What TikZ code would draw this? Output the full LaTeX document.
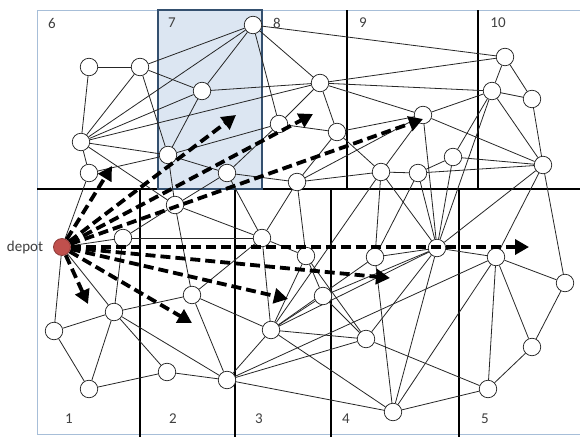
\documentclass[tikz,border=0pt]{standalone}
\usepackage{fontspec}
\setmainfont{Carlito}
\usetikzlibrary{arrows.meta}
\pgfdeclarelayer{back}
\pgfdeclarelayer{edges}
\pgfdeclarelayer{front}
\pgfdeclarelayer{top}
\pgfsetlayers{back,edges,main,front,top}
\definecolor{zonefill}{HTML}{DCE6F2}
\definecolor{zoneedge}{HTML}{34506F}
\definecolor{framecol}{HTML}{A7BED8}
\definecolor{depotred}{HTML}{C0504D}
\definecolor{depotrim}{HTML}{8E3B39}
\begin{document}
\begin{tikzpicture}[x=1pt,y=-1pt,
  vtx/.style={circle,draw=black!85,fill=white,line width=0.75pt,inner sep=0pt,minimum size=17.5pt},
  depotnode/.style={circle,draw=depotrim,fill=depotred,line width=0.8pt,inner sep=0pt,minimum size=17pt},
  edge/.style={draw=black!85,line width=0.8pt},
  gridline/.style={draw=black,line width=1.5pt},
  route/.style={draw=black,line width=3.8pt,dash pattern=on 10pt off 5pt,-{Triangle[length=14pt,width=15pt]}},
  lbl/.style={font=\fontsize{15}{17}\selectfont,text=black!75,inner sep=0pt}]
\useasboundingbox (0,0) rectangle (580,437);
\begin{pgfonlayer}{back}
\fill[white] (0,0) rectangle (580,437);
\fill[zonefill] (158,10) rectangle (262,189);
\draw[framecol,line width=1pt] (580,10) -- (37,10) -- (37,434) -- (580,434);
\draw[gridline] (37,189) -- (580,189);
\foreach \gx in {347,478} \draw[gridline] (\gx,10) -- (\gx,189);
\foreach \gx in {140,235,331,459} \draw[gridline] (\gx,189) -- (\gx,437);
\draw[zoneedge,line width=2pt] (158,10) rectangle (262,189);
\end{pgfonlayer}

% zone labels
\node[lbl] (z6) at (52,23) {6};
\node[lbl] (z7) at (172,23) {7};
\node[lbl] (z8) at (277,23) {8};
\node[lbl] (z9) at (363,23) {9};
\node[lbl] (z10) at (498,23) {10};
\node[lbl] (z1) at (69,419) {1};
\node[lbl] (z2) at (173,419) {2};
\node[lbl] (z3) at (259,419) {3};
\node[lbl] (z4) at (346,419) {4};
\node[lbl] (z5) at (485,419) {5};
\node[lbl] (deplbl) at (25,247) {depot};

% customers
\node[vtx] (a) at (89,67) {};
\node[vtx] (b) at (140,67) {};
\node[vtx] (c) at (253,25) {};
\node[vtx] (d) at (202,91) {};
\node[vtx] (e) at (320,83) {};
\node[vtx] (f) at (505,57) {};
\node[vtx] (g) at (492,91) {};
\node[vtx] (h) at (532,99) {};
\node[vtx] (i) at (423,115) {};
\node[vtx] (j) at (81,142) {};
\node[vtx] (k) at (337,132) {};
\node[vtx] (yy) at (279,124) {};
\node[vtx] (l) at (168,155) {};
\node[vtx] (p) at (89,173) {};
\node[vtx] (q) at (227,173) {};
\node[vtx] (r) at (297,182) {};
\node[vtx] (m) at (381,172) {};
\node[vtx] (xx) at (418,173) {};
\node[vtx] (n) at (453,157) {};
\node[vtx] (o) at (543,165) {};
\node[vtx] (s) at (175,205) {};
\node[vtx] (t) at (123,238) {};
\node[vtx] (u) at (262,238) {};
\node[vtx] (w1) at (306,256) {};
\node[vtx] (w2) at (375,257) {};
\node[vtx] (v) at (437,248) {};
\node[vtx] (z) at (496,257) {};
\node[vtx] (n28) at (565,283) {};
\node[vtx] (n29) at (192,295) {};
\node[vtx] (n30) at (114,312) {};
\node[vtx] (n31) at (54,331) {};
\node[vtx] (n32) at (323,296) {};
\node[vtx] (n33) at (271,330) {};
\node[vtx] (n34) at (366,339) {};
\node[vtx] (n35) at (167,372) {};
\node[vtx] (n36) at (227,380) {};
\node[vtx] (n37) at (89,389) {};
\node[vtx] (n38) at (393,412) {};
\node[vtx] (n39) at (488,389) {};
\node[vtx] (n40) at (532,347) {};

\begin{pgfonlayer}{top}
\node[depotnode] (depot) at (62,247) {};
\end{pgfonlayer}

\begin{pgfonlayer}{edges}
\foreach \u/\v in {a/b,a/j,b/j,b/c,b/d,b/l,j/c,j/d,j/e,j/l,j/p,j/s,d/l,c/d,d/e,c/e,c/yy,c/f,
  e/yy,e/k,e/f,e/g,e/i,yy/k,l/yy,yy/q,k/i,i/g,i/r,i/v,i/o,i/m,f/g,f/h,g/h,g/o,h/o,g/n,g/v,
  n/o,xx/o,o/v,o/z,o/n28,m/xx,n/xx,xx/v,k/r,k/m,q/r,r/m,q/s,q/u,l/s,l/q,s/u,u/r,r/w1,t/s,t/u,p/l,
  depot/t,depot/p,depot/n30,depot/n31,t/n30,n30/n31,n31/n37,n30/n37,n37/n35,n30/n35,n30/n29,
  n30/n36,n35/n36,n29/n36,n29/n33,n29/s,n29/u,n36/n33,n36/n34,n36/z,n36/n38,n33/u,n33/n32,
  n33/w1,n33/m,n33/w2,n33/v,n33/n34,n33/n38,n32/n34,n32/w1,n32/v,w1/n34,u/w1,n38/n39,n39/n40,
  n40/n28,n39/z,n40/z,n39/n34,n38/w2,n38/v,n38/z,v/z,z/n28,w2/v,m/w2,xx/w2,n/v,v/n34,m/v}
  \draw[edge] (\u) -- (\v);
\end{pgfonlayer}

% route arrow tips
\coordinate (r1) at (112,166);
\coordinate (r2) at (236,115);
\coordinate (r3) at (313,114);
\coordinate (r4) at (423,119);
\coordinate (r5) at (529,247);
\coordinate (r6) at (390,278);
\coordinate (r7) at (288,299);
\coordinate (r8) at (192,323);
\coordinate (r9) at (88,304);
\begin{pgfonlayer}{front}
\foreach \k in {1,...,9} \draw[route] (depot) -- (r\k);
\end{pgfonlayer}
\end{tikzpicture}
\end{document}
